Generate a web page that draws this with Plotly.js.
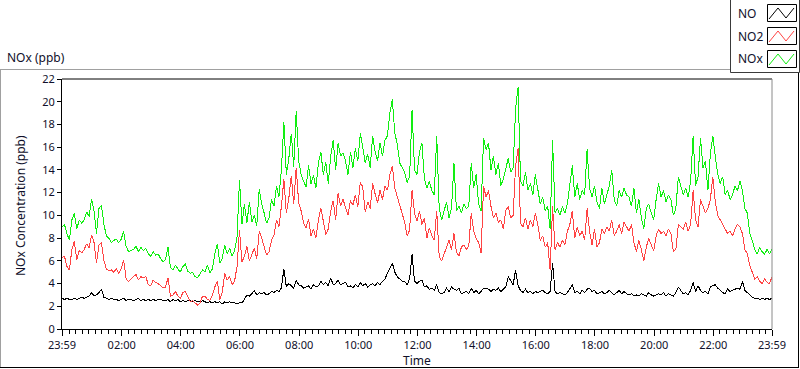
<!DOCTYPE html>
<html>
<head>
<meta charset="utf-8">
<script src="https://cdn.plot.ly/plotly-3.0.1.min.js"></script>
<style>
html,body{margin:0;padding:0;background:#fff;}
#chart{width:800px;height:369px;}
#chart .scatterlayer path.js-line{shape-rendering:crispEdges;}
</style>
</head>
<body>
<div id="chart"></div>
<script>
// ---- data (5-minute samples from 23:59 to 23:59 next day) ----
const startTime = "2024-01-01 23:59";
const stepMinutes = 5;

const noValues = [
2.7,2.6,2.7,2.6,2.6,2.7,2.6,2.7,2.8,2.7, 2.8,2.9,3.2,2.9,3.0,3.2,3.5,2.8,2.7,2.6,
2.7,2.6,2.6,2.5,2.6,2.7,2.5,2.6,2.6,2.5, 2.6,2.7,2.5,2.6,2.5,2.6,2.5,2.6,2.5,2.6,
2.6,2.5,2.5,2.6,2.4,2.6,2.5,2.6,2.4,2.5, 2.4,2.5,2.5,2.4,2.5,2.4,2.4,2.5,
2.4,2.3,2.4,2.3,2.4,2.3,2.4,2.2,2.4,2.3, 2.4,2.3,2.3,2.2,2.3,2.3,2.6,3.0,2.9,3.1,
3.4,3.0,3.2,3.1,3.2,3.0,3.1,3.3,3.2,3.4, 3.3,3.6,5.3,3.7,4.0,3.8,3.6,4.3,3.9,3.8,
3.6,3.7,3.8,3.5,3.9,3.7,3.8,4.2,3.9,4.1, 3.8,4.5,3.9,4.0,4.3,3.9,4.0,
4.1,3.7,3.8,3.6,3.9,3.7,4.1,3.8,4.0,3.7, 3.9,4.0,3.8,4.1,3.9,4.2,4.4,4.9,5.4,5.8,
5.0,4.6,4.4,4.2,4.2,3.9,4.4,6.6,4.2,4.0, 4.2,4.3,3.7,3.8,3.5,3.6,3.4,3.9,3.2,3.1,
3.2,3.6,3.3,3.7,3.5,3.4,3.6,3.1,3.2,3.3, 3.1,3.6,3.2,3.4,3.1,3.3,3.6,
3.6,3.5,3.3,3.5,3.4,3.6,3.3,3.5,3.7,4.6, 4.2,3.9,5.2,3.8,3.4,3.2,3.5,3.2,3.3,3.1,
3.3,3.2,3.3,3.4,3.2,3.1,3.3,5.8,3.3,3.1, 3.2,3.1,3.0,3.2,3.6,3.9,3.2,3.3,3.1,3.4,
3.2,3.5,3.6,3.3,3.4,3.1,3.2,3.3,3.1,3.2, 3.4,3.2,3.0,3.2,3.4,3.1,3.3,3.1,
3.0,3.1,2.9,3.0,2.9,3.1,3.0,2.9,3.2,3.0, 2.9,3.0,3.1,3.0,3.2,2.9,3.1,3.0,2.9,3.2,
3.7,3.4,3.1,3.2,3.0,3.4,4.1,3.3,3.8,3.4, 3.2,3.3,3.1,3.7,3.8,3.9,3.6,3.4,3.2,3.1,
3.5,3.3,3.4,3.5,3.6,3.5,4.2,3.4,3.2,3.0, 2.8,2.7,2.7,2.6,2.7,2.6,2.7,2.6,2.7
];

const no2Values = [
6.3,6.4,5.5,5.2,7.0,7.7,6.1,6.9,6.7,7.0, 7.5,7.1,8.3,7.6,5.8,7.4,7.6,6.0,5.3,5.1,
5.2,5.0,5.3,4.9,5.3,6.1,4.4,4.2,4.4,4.6, 4.8,4.3,4.6,4.5,4.6,3.9,3.8,4.3,4.1,4.0,
3.8,3.6,3.7,4.5,2.9,3.0,3.3,2.9,2.7,3.2, 3.3,2.8,2.4,2.5,2.3,2.1,2.3,2.9,
2.9,2.6,2.5,3.0,3.7,4.2,2.6,3.2,4.9,4.3, 4.6,3.9,4.2,5.5,8.7,5.9,6.4,7.3,6.0,6.6,
7.1,6.2,8.6,8.0,7.2,6.5,6.8,7.8,8.3,9.6, 9.0,10.8,13.2,10.2,11.5,13.5,11.0,14.2,11.1,10.4,
9.3,8.9,9.7,8.2,8.8,8.0,9.6,10.6,9.5,8.3, 8.8,10.4,11.3,9.6,12.0,10.8,11.4,
10.6,10.0,11.3,10.9,11.8,10.7,12.9,12.5,10.3,11.2, 10.6,12.8,11.9,11.1,12.2,11.4,12.6,12.2,13.6,14.3,
12.4,11.6,10.8,10.2,9.4,8.2,8.7,12.2,10.2,9.5, 10.4,9.2,9.8,8.0,8.9,8.2,7.8,10.4,6.4,6.0,
6.6,7.3,7.8,7.0,8.4,6.8,6.4,7.2,7.4,7.0, 7.3,10.2,8.6,8.0,7.6,6.7,12.6,
11.6,12.2,10.8,9.8,10.2,9.4,9.6,8.8,10.4,10.8, 9.8,10.0,14.4,15.9,9.3,9.0,9.8,8.8,9.6,9.0,
10.2,9.2,7.8,8.2,7.2,7.6,5.2,10.8,7.0,7.6, 7.2,7.8,7.4,8.6,9.2,10.4,8.0,9.0,8.2,8.6,
7.8,10.6,8.6,7.4,8.8,7.2,7.6,8.8,8.4,9.0, 8.6,9.6,8.2,8.6,9.2,8.4,9.4,9.0,
8.6,9.2,7.6,6.8,7.8,7.0,6.0,7.2,8.0,7.4, 6.9,8.2,8.8,8.4,8.6,8.2,8.8,8.4,6.8,7.0,
9.2,9.0,8.8,9.4,8.6,9.2,12.2,9.6,9.0,11.4, 10.8,10.2,10.6,11.4,13.4,11.2,10.0,9.6,9.2,8.8,
8.4,8.6,8.2,8.8,9.2,9.0,8.4,7.0,6.6,5.6, 5.0,4.4,4.6,4.2,4.0,4.4,4.1,4.0,4.6
];

const noxValues = [
9.0,9.2,8.4,7.8,9.6,10.2,8.8,9.6,9.3,9.6, 10.3,9.9,11.4,10.4,8.4,10.6,10.9,9.2,8.2,8.0,
7.6,7.8,7.9,7.6,7.9,8.6,7.3,6.8,6.9,7.0, 7.3,6.8,7.2,6.9,7.1,6.6,6.4,6.8,6.5,6.6,
6.2,5.9,6.1,7.2,5.4,5.2,5.6,5.3,5.0,5.5, 5.7,5.1,4.9,5.0,4.6,4.5,4.8,5.2,
5.0,5.6,4.9,5.3,6.6,7.5,5.8,6.2,7.4,6.6, 7.1,6.4,6.9,8.1,13.1,9.2,11.0,9.3,11.2,9.4,
10.0,9.1,12.3,11.0,10.2,9.3,9.8,11.4,10.8,12.6, 11.6,14.0,18.2,13.6,15.0,17.2,14.3,19.2,14.8,13.6,
13.0,12.5,14.4,12.8,13.5,12.4,14.6,15.6,13.6,14.7, 12.8,15.2,16.6,14.0,16.4,15.2,15.5,
14.8,13.6,15.6,14.2,15.9,14.8,17.2,16.0,14.6,15.4, 14.2,17.0,15.6,14.8,16.4,15.2,16.6,17.0,19.0,20.2,
17.2,16.3,14.6,14.2,13.8,12.9,13.4,19.3,14.0,13.6, 15.6,16.4,13.2,12.4,13.0,12.2,11.8,17.0,10.6,9.6,
10.4,11.2,9.8,10.6,14.6,10.4,10.8,10.2,11.0,10.6, 10.8,14.6,12.4,13.6,11.0,10.4,16.8,
15.8,16.4,14.0,15.2,13.6,14.6,12.6,13.2,14.2,15.0, 13.8,14.2,19.4,21.3,13.0,12.6,13.8,12.2,12.8,11.8,
13.6,12.4,11.0,11.6,10.4,10.8,8.8,16.6,10.2,10.6, 10.0,10.8,10.2,11.0,12.6,14.4,11.6,12.8,11.4,12.2,
11.8,15.8,12.4,11.6,12.6,11.2,10.6,12.4,11.0,11.8, 12.6,14.0,11.4,10.8,12.2,11.6,12.4,11.8,
11.6,10.8,12.4,10.2,11.4,9.8,8.8,10.6,11.0,10.2, 9.6,11.4,12.8,11.6,12.2,11.2,11.8,11.4,10.0,10.6,
13.4,12.6,11.8,12.4,11.6,13.0,17.0,12.6,13.4,16.8, 14.2,14.8,12.2,15.4,17.0,15.2,13.6,12.8,13.4,11.8,
12.2,11.4,11.8,12.6,12.2,13.0,12.2,10.6,10.2,8.4, 7.8,7.0,6.6,7.2,6.8,6.6,7.0,6.6,7.0
];

const seriesNames = ["NO", "NO2", "NOx"];
const seriesColors = ["#000000", "#ff4444", "#12ee12"];
const tickVals = ["2024-01-01 23:59","2024-01-02 02:00","2024-01-02 04:00","2024-01-02 06:00",
  "2024-01-02 08:00","2024-01-02 10:00","2024-01-02 12:00","2024-01-02 14:00","2024-01-02 16:00",
  "2024-01-02 18:00","2024-01-02 20:00","2024-01-02 22:00","2024-01-02 23:59"];
const tickLabels = ["23:59","02:00","04:00","06:00","08:00","10:00","12:00","14:00","16:00",
  "18:00","20:00","22:00","23:59"];
const yTickVals = [0,2,4,6,8,10,12,14,16,18,20,22];

// ---- time axis samples ----
function fmt(ms){ return new Date(ms).toISOString().slice(0,16).replace('T',' '); }
const t0 = Date.UTC(2024,0,1,23,59);
const times = noValues.map((_, i) => fmt(t0 + i*stepMinutes*60000));

const allSeries = [noValues, no2Values, noxValues];
const traces = allSeries.map((vals, k) => ({
  type: "scatter", mode: "lines", x: times, y: vals, name: seriesNames[k],
  line: {color: seriesColors[k], width: 1}, hoverinfo: "skip", showlegend: false
}));

// ---- pixel helpers for decorations ----
const L = 62, R = 772, T = 79, B = 329;
const PX = x => (x - L) / (R - L);
const PY = y => (B - y) / (B - T);
const font = {family: "Noto Sans, DejaVu Sans, sans-serif", size: 11, color: "#10102a"};

const shapes = [
  // plot frame top (black) and right (gray)
  {type:"line", xref:"paper", yref:"paper", x0:0, x1:1, y0:1, y1:1, line:{color:"#000", width:1}},
  {type:"line", xref:"paper", yref:"paper", x0:1, x1:1, y0:0, y1:1, line:{color:"#8a8a8a", width:1}},
  // outer panel frame
  {type:"line", xref:"paper", yref:"paper", x0:PX(0), x1:PX(731), y0:PY(69.5), y1:PY(69.5), line:{color:"#a0a0a0", width:1}},
  {type:"line", xref:"paper", yref:"paper", x0:PX(0.5), x1:PX(0.5), y0:PY(69.5), y1:PY(368), line:{color:"#a0a0a0", width:1}},
  {type:"line", xref:"paper", yref:"paper", x0:PX(0), x1:PX(799), y0:PY(367.5), y1:PY(367.5), line:{color:"#000", width:1}},
  {type:"line", xref:"paper", yref:"paper", x0:PX(798.5), x1:PX(798.5), y0:PY(72), y1:PY(368), line:{color:"#000", width:1}},
  // legend box
  {type:"rect", xref:"paper", yref:"paper", x0:PX(730.5), x1:PX(799.5), y0:PY(-2), y1:PY(72.5),
   line:{color:"#3a3a3a", width:1}, fillcolor:"#ffffff"}
];
const annotations = [
  {xref:"paper", yref:"paper", x:PX(5), y:PY(58), xanchor:"left", yanchor:"middle", showarrow:false,
   text:"NOx (ppb)", font:{...font, size:12}},
  {xref:"paper", yref:"paper", x:PX(20), y:PY(206), xanchor:"center", yanchor:"middle", showarrow:false,
   text:"NOx Concentration (ppb)", textangle:-90, font:{...font, size:12}},
  {xref:"paper", yref:"paper", x:PX(417), y:PY(360), xanchor:"center", yanchor:"middle", showarrow:false,
   text:"Time", font:{...font, size:12}}
];
// legend entries
const legendRows = [13, 36, 59];
seriesNames.forEach((nm, k) => {
  const cy = legendRows[k];
  shapes.push({type:"rect", xref:"paper", yref:"paper", x0:PX(767.5), x1:PX(796.5), y0:PY(cy-8.5), y1:PY(cy+8.5),
    line:{color:"#000", width:1}, fillcolor:"#fff"});
  const pts = [[769, cy+6],[778, cy-5],[786, cy+5],[794, cy-5]];
  const path = "M " + pts.map(p => PX(p[0]) + "," + PY(p[1])).join(" L ");
  shapes.push({type:"path", xref:"paper", yref:"paper", path: path, line:{color: seriesColors[k], width:1}});
  annotations.push({xref:"paper", yref:"paper", x:PX(736), y:PY(cy), xanchor:"left", yanchor:"middle",
    showarrow:false, text:nm, font:{...font, size:12}});
});

const layout = {
  width: 800, height: 369,
  margin: {l: L, r: 800 - R, t: T, b: 369 - B, pad: 0},
  paper_bgcolor: "#ffffff", plot_bgcolor: "#ffffff",
  showlegend: false,
  font: font,
  xaxis: {
    type: "date", range: [tickVals[0], tickVals[tickVals.length-1]],
    tickmode: "array", tickvals: tickVals, ticktext: tickLabels,
    ticks: "outside", ticklen: 6, tickcolor: "#000", tickwidth: 1,
    showline: true, linecolor: "#000", linewidth: 1,
    showgrid: false, zeroline: false, tickfont: font,
    minor: {ticks: "outside", ticklen: 4, tickcolor: "#000", tickwidth: 1,
            tick0: "2024-01-02 00:00", dtick: 800000, showgrid: false}
  },
  yaxis: {
    range: [0, 22], tickmode: "array", tickvals: yTickVals,
    ticks: "outside", ticklen: 4, tickcolor: "#000", tickwidth: 1,
    showline: true, linecolor: "#000", linewidth: 1,
    showgrid: false, zeroline: false, tickfont: font
  },
  shapes: shapes,
  annotations: annotations
};

Plotly.newPlot("chart", traces, layout, {displayModeBar: false, staticPlot: true});
</script>
</body>
</html>
